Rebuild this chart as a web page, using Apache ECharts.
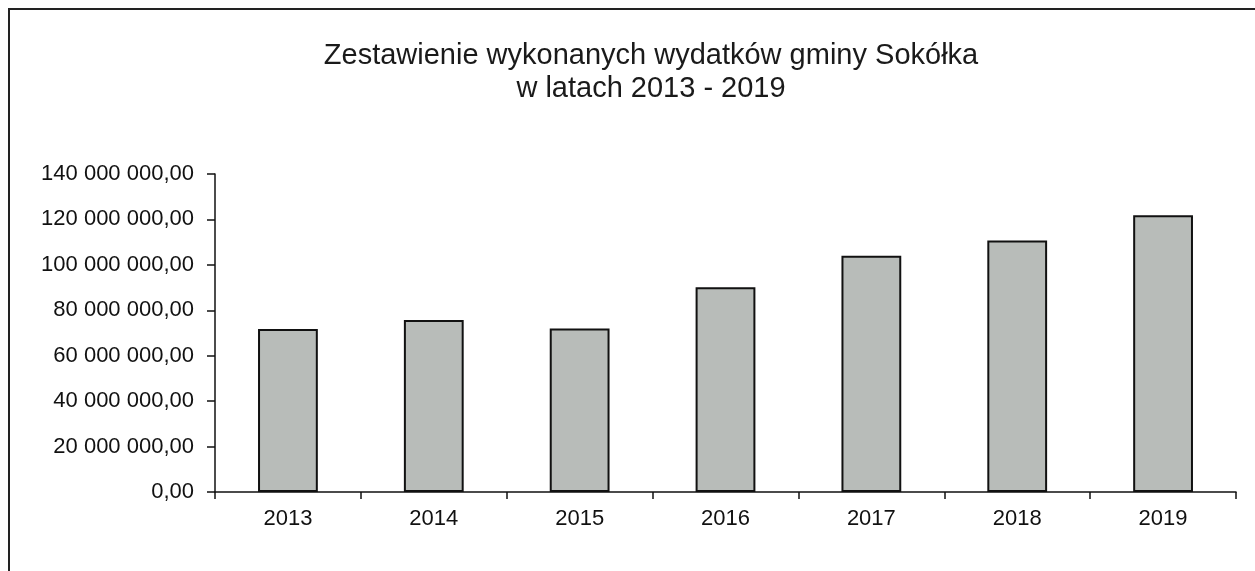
<!DOCTYPE html>
<html lang="pl">
<head>
    <meta charset="UTF-8">
    <title>Wydatki gminy Sokółka</title>
    <script src="https://cdn.jsdelivr.net/npm/echarts@6/dist/echarts.min.js"></script>
    <style>
        html, body { margin: 0; padding: 0; background: #fff; }
        #chart { width: 1255px; height: 571px; }
    </style>
</head>
<body>
<div id="chart"></div>
<script>
  // dane
  var years = ['2013', '2014', '2015', '2016', '2017', '2018', '2019'];
  var expenses = [71800000, 75700000, 72000000, 90100000, 104000000, 110700000, 121800000];
  var titleLines = ['Zestawienie wykonanych wydatków gminy Sokółka', 'w latach 2013 - 2019'];

  // 140000000 -> "140 000 000,00"
  function fmt(v) {
    var s = Math.round(v).toString().replace(/\B(?=(\d{3})+(?!\d))/g, ' ');
    return s + ',00';
  }

  var font = 'Liberation Sans, Arial, sans-serif';
  var options = {
    animation: false,
    backgroundColor: '#fff',
    textStyle: { fontFamily: font },
    title: {
      text: titleLines.join('\n'),
      left: 646,
      top: 34,
      textAlign: 'center',
      textStyle: {
        fontSize: 29,
        fontWeight: 'normal',
        color: '#1a1a1a',
        lineHeight: 33,
        fontFamily: font
      }
    },
    // ramka
    graphic: [{
      type: 'polyline',
      shape: { points: [[9, 600], [9, 9], [1300, 9]] },
      style: { stroke: '#222', lineWidth: 2, fill: null }
    }],
    grid: {
      left: 215,
      right: 1255 - 1236,
      top: 174,
      bottom: 571 - 492
    },
    xAxis: {
      type: 'category',
      data: years,
      axisLine: { lineStyle: { color: '#111', width: 1.5 } },
      axisTick: { show: true, length: 7, lineStyle: { color: '#111', width: 1.5 } },
      axisLabel: { fontSize: 22, color: '#111', margin: 16, fontFamily: font }
    },
    yAxis: {
      type: 'value',
      min: 0,
      max: 140000000,
      interval: 20000000,
      axisLine: { show: true, lineStyle: { color: '#111', width: 1.5 } },
      axisTick: { show: true, length: 8, lineStyle: { color: '#111', width: 1.5 } },
      axisLabel: { fontSize: 22, color: '#111', margin: 21, formatter: fmt, fontFamily: font },
      splitLine: { show: false }
    },
    series: [{
      type: 'bar',
      data: expenses,
      barWidth: '41%',
      itemStyle: {
        color: '#b8bcb9',
        borderColor: '#111',
        borderWidth: 2
      }
    }]
  };

  var myChart = echarts.init(document.getElementById('chart'));
  myChart.setOption(options);
</script>
</body>
</html>
